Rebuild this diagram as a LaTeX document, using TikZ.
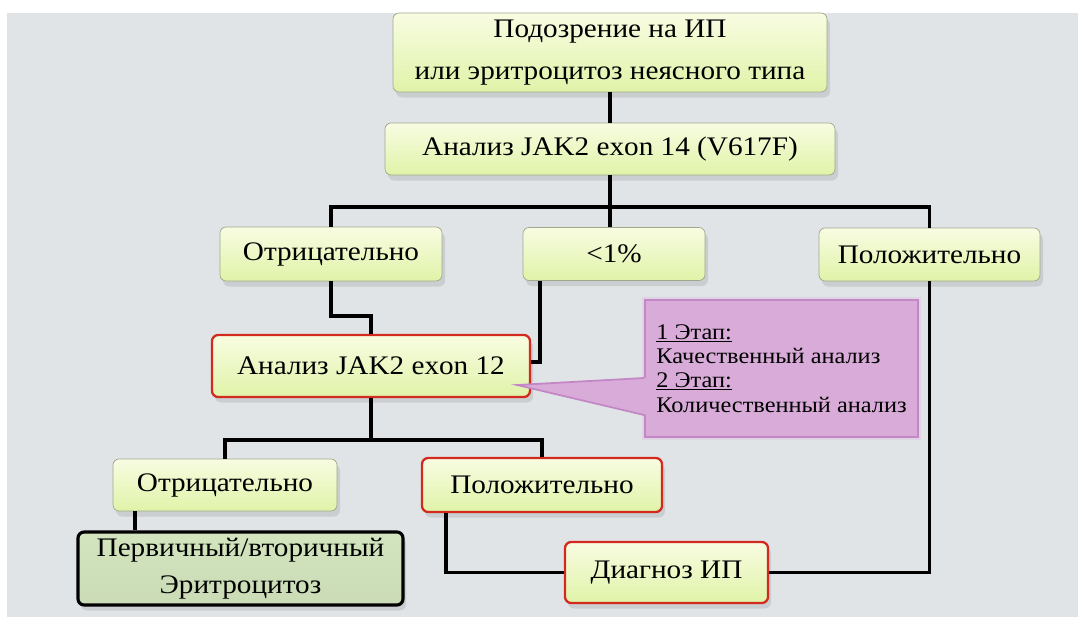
\documentclass[tikz,border=0pt]{standalone}
\usepackage{fontspec}
\setmainfont[FakeStretch=1.09]{Liberation Serif}
\usepackage{xcolor}
\usetikzlibrary{shadows}
\definecolor{bgcol}{HTML}{E1E4E7}
\definecolor{boxtop}{HTML}{F8FCE2}
\definecolor{boxbot}{HTML}{E0F3A8}
\definecolor{boxline}{HTML}{9DA88C}
\definecolor{redline}{HTML}{D22A1E}
\definecolor{sage}{HTML}{D3E5BE}
\definecolor{callfill}{HTML}{D8ABD8}
\definecolor{callline}{HTML}{C387C6}
\tikzset{
  greenbox/.style={draw=boxline, line width=0.8pt, rounded corners=7pt,
    top color=boxtop, bottom color=boxbot, align=center,
    font=\fontsize{30.5}{46}\selectfont,
    drop shadow={opacity=0.22, shadow xshift=0.12cm, shadow yshift=-0.22cm}},
  redbox/.style={greenbox, draw=redline, line width=2.6pt},
  darkbox/.style={greenbox, draw=black, line width=3.6pt, top color=sage, bottom color=sage!85!black!30!sage},
  callbox/.style={draw=callline, line width=2pt, fill=callfill, align=left,
    font=\fontsize{25.4}{27.5}\selectfont,
    preaction={draw=callline!60, line width=7pt, opacity=0.35}},
  wire/.style={black, line width=4.5pt}
}
\begin{document}
\begin{tikzpicture}[scale=0.2]
\tikzstyle{every node}+=[inner sep=0pt]
\fill [white] (0,0) rectangle (215.6,-123.4);
\fill [bgcol] (1.4,-2.6) rectangle (215.6,-123.4);
\node [greenbox, minimum width=17.36cm, minimum height=3.16cm, font=\fontsize{30.5}{48}\selectfont] (top) at (122,-10.5) {Подозрение на ИП\\или эритроцитоз неясного типа};
\node [greenbox, minimum width=18cm, minimum height=2.08cm] (jak14) at (122,-29.8) {Анализ JAK2 exon 14 (V617F)};
\node [greenbox, minimum width=8.88cm, minimum height=2.16cm] (neg1) at (66.2,-50.8) {Отрицательно};
\node [greenbox, minimum width=7.28cm, minimum height=2.12cm] (low) at (122.8,-50.8) {<1\%};
\node [greenbox, minimum width=8.84cm, minimum height=2.12cm] (pos1) at (185.9,-50.9) {Положительно};
\node [redbox, minimum width=12.72cm, minimum height=2.48cm] (jak12) at (74.2,-73.2) {Анализ JAK2 exon 12};
\node [greenbox, minimum width=8.96cm, minimum height=2.08cm] (neg2) at (45,-97) {Отрицательно};
\node [redbox, minimum width=9.6cm, minimum height=2.16cm] (pos2) at (108.4,-97) {Положительно};
\node [darkbox, minimum width=13cm, minimum height=2.92cm, font=\fontsize{30.5}{42}\selectfont] (prim) at (48.1,-113.7) {Первичный/вторичный\\Эритроцитоз};
\node [redbox, minimum width=8.12cm, minimum height=2.44cm] (diag) at (133.3,-114.5) {Диагноз ИП};
% connectors
\coordinate (j1) at (122,-41.4);
\draw [wire] (top.south -| j1) -- (jak14.north -| j1);
\draw [wire] (jak14.south -| j1) -- (j1);
\draw [wire] (neg1.north) |- (j1) -| (pos1.north);
\draw [wire] (j1) -- (low.north -| j1);
\draw [wire] (neg1.south) -- ++(0,-7) -| (jak12.north);
\coordinate (l1) at ([xshift=3.4cm]low.south west);
\draw [wire] (l1) |- ([yshift=0.8cm]jak12.east);
\draw [wire] (jak12.south) -- ++(0,-8.4) coordinate (j2);
\draw [wire] (neg2.north) |- (j2) -| (pos2.north);
\coordinate (n2) at ([xshift=4.4cm]neg2.south west);
\draw [wire] (n2) -- (n2 |- prim.north);
\coordinate (p2) at ([xshift=5cm]pos2.south west);
\draw [wire] (p2) |- (diag.west);
\draw [wire] (pos1.south) |- (diag.east);
% callout
\node [callbox, minimum width=10.92cm, minimum height=5.48cm] (call) at (156.3,-73.7) {\underline{1 Этап:}\\Качественный анализ\\\underline{2 Этап:}\\Количественный анализ};
\coordinate (tip) at (103.4,-77);
\fill [callfill] (tip) -- ([yshift=-1.9cm,xshift=0.6cm]call.west) -- ([yshift=-9.3cm,xshift=0.6cm]call.west) -- cycle;
\draw [callline, line width=2pt] ([yshift=-1.9cm]call.west) -- (tip) -- ([yshift=-9.3cm]call.west);
\end{tikzpicture}
\end{document}
